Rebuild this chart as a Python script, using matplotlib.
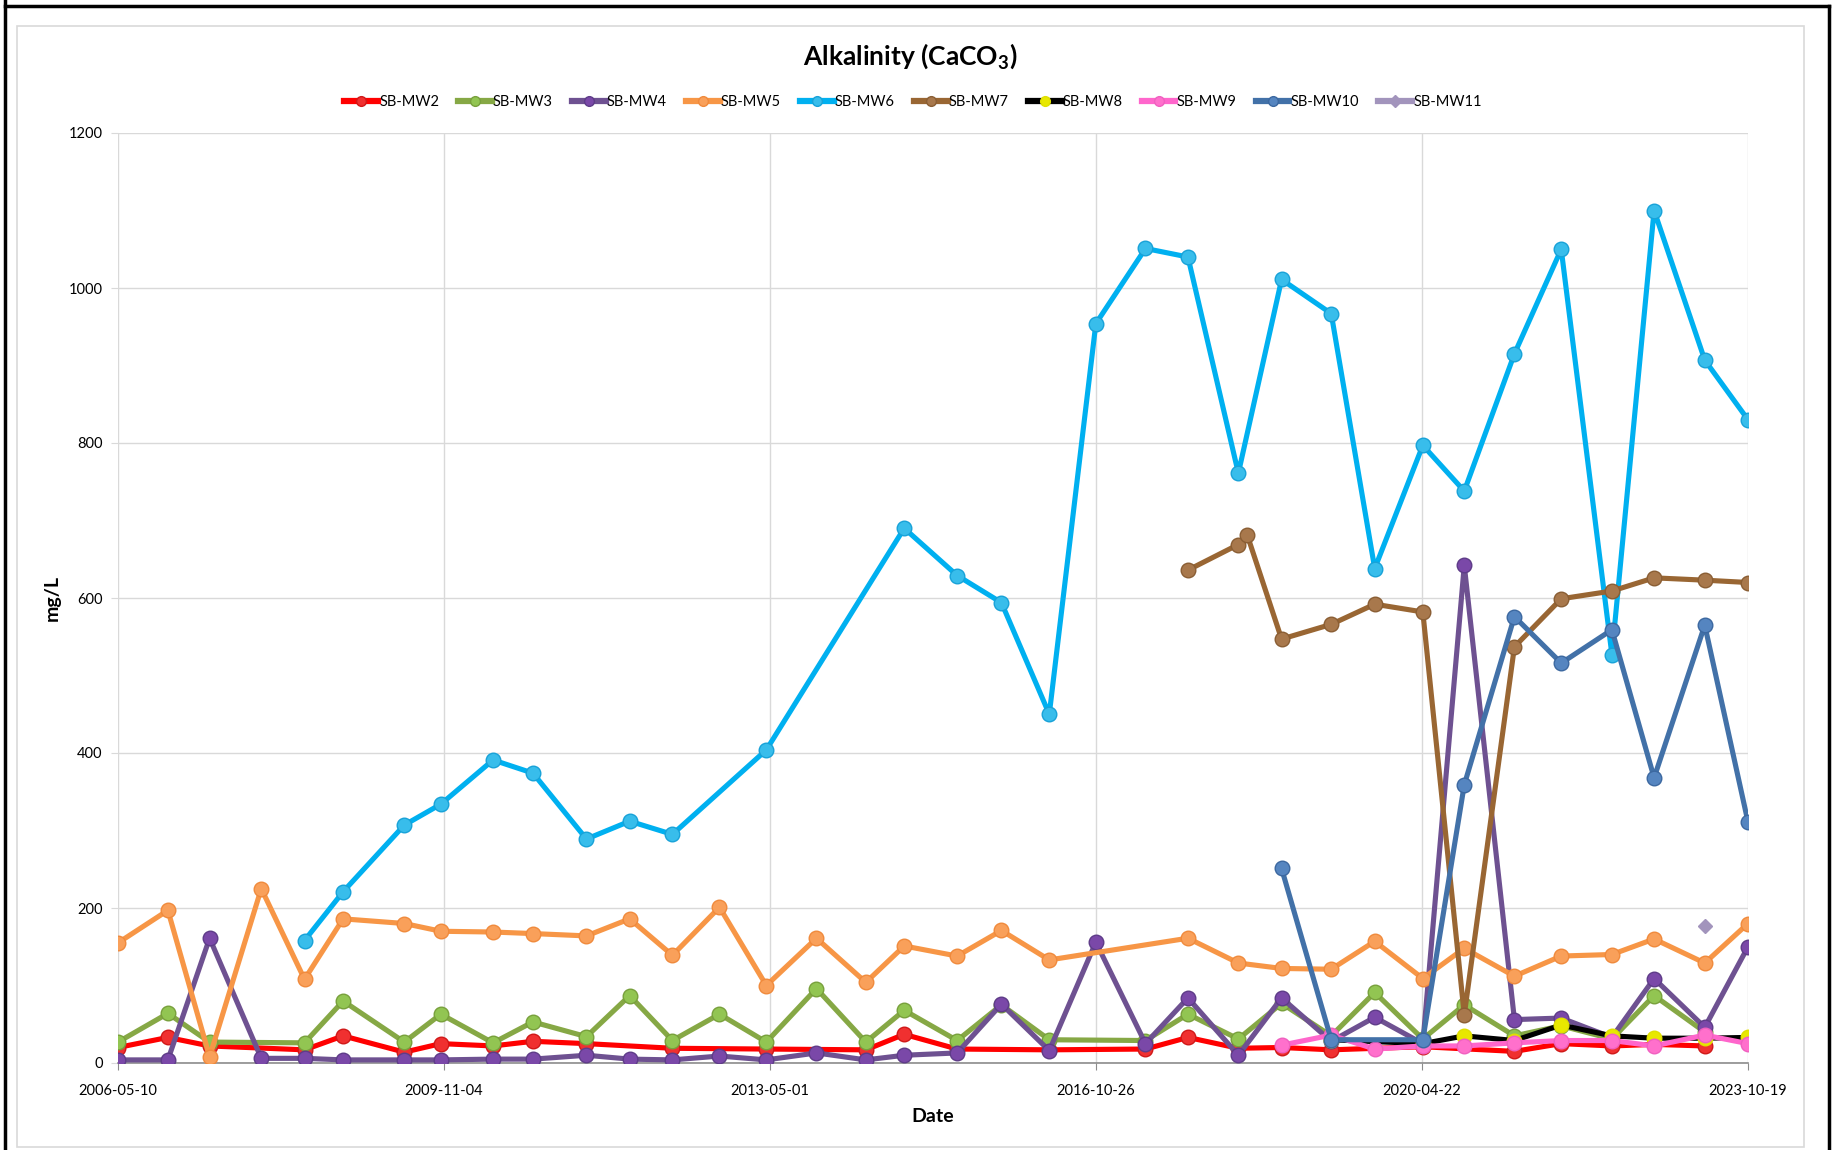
"""
Alkalinity (CaCO3) time series for the SB monitoring wells.
"""

import numpy as np
import matplotlib
matplotlib.use('Agg')
import matplotlib.pyplot as plt
import matplotlib.dates as mdates
from matplotlib.lines import Line2D
from matplotlib.patches import Rectangle

plt.rcParams['font.family'] = ['Lato', 'DejaVu Sans']

# ---- data (mg/L) ----
mw2_dates = ['2006-05-10', '2006-11-21', '2007-05-03', '2008-05-08', '2008-10-06',
             '2009-06-02', '2009-10-23', '2010-05-15', '2010-10-18', '2011-05-15',
             '2012-04-15', '2013-04-17', '2014-05-11', '2014-10-08', '2015-05-03',
             '2016-04-27', '2017-05-08', '2017-10-21', '2018-05-06', '2018-10-22',
             '2019-05-04', '2020-04-26', '2021-04-19', '2021-10-19', '2022-05-05',
             '2022-10-17', '2023-05-03']
mw2_vals = [20, 33, 22, 17, 35, 14, 25, 22, 28, 25, 19, 18, 17, 37, 18, 17, 18, 33,
            19, 20, 17, 21, 15, 25, 22, 24, 22]

mw3_dates = ['2006-05-10', '2006-11-21', '2007-05-03', '2008-05-08', '2008-10-06',
             '2009-06-02', '2009-10-23', '2010-05-15', '2010-10-18', '2011-05-15',
             '2011-10-31', '2012-04-15', '2012-10-16', '2013-04-17', '2013-10-30',
             '2014-05-11', '2014-10-08', '2015-05-03', '2015-10-23', '2016-04-27',
             '2017-05-08', '2017-10-21', '2018-05-06', '2018-10-22', '2019-05-04',
             '2019-10-21', '2020-04-26', '2020-10-05', '2021-04-19', '2021-10-19',
             '2022-05-05', '2022-10-17', '2023-05-03']
mw3_vals = [27, 64, 27, 26, 80, 27, 63, 26, 53, 34, 87, 29, 63, 27, 96, 27, 68, 29,
            75, 30, 29, 63, 31, 77, 35, 91, 31, 75, 35, 48, 31, 87, 40]

mw4_dates = ['2006-05-10', '2006-11-21', '2007-05-03', '2007-11-21', '2008-05-08',
             '2008-10-06', '2009-06-02', '2009-10-23', '2010-05-15', '2010-10-18',
             '2011-05-15', '2011-10-31', '2012-04-15', '2012-10-16', '2013-04-17',
             '2013-10-30', '2014-05-11', '2014-10-08', '2015-05-03', '2015-10-23',
             '2016-04-27', '2016-10-26', '2017-05-08', '2017-10-21', '2018-05-06',
             '2018-10-22', '2019-05-04', '2019-10-21', '2020-04-26', '2020-10-05',
             '2021-04-19', '2021-10-19', '2022-05-05', '2022-10-17', '2023-05-03',
             '2023-10-19']
mw4_vals = [4, 4, 161, 6, 6, 4, 4, 4, 5, 5, 10, 5, 4, 9, 4, 13, 4, 10, 13, 76, 16,
            156, 25, 84, 10, 84, 28, 59, 25, 642, 56, 58, 33, 109, 46, 150]

mw5_dates = ['2006-05-10', '2006-11-21', '2007-05-03', '2007-11-21', '2008-05-08',
             '2008-10-06', '2009-06-02', '2009-10-23', '2010-05-15', '2010-10-18',
             '2011-05-15', '2011-10-31', '2012-04-15', '2012-10-16', '2013-04-17',
             '2013-10-30', '2014-05-11', '2014-10-08', '2015-05-03', '2015-10-23',
             '2016-04-27', '2017-10-21', '2018-05-06', '2018-10-22', '2019-05-04',
             '2019-10-21', '2020-04-26', '2020-10-05', '2021-04-19', '2021-10-19',
             '2022-05-05', '2022-10-17', '2023-05-03', '2023-10-19']
mw5_vals = [155, 197, 8, 225, 108, 186, 180, 170, 169, 167, 164, 186, 139, 201, 100,
            161, 104, 151, 138, 171, 133, 161, 129, 122, 121, 157, 109, 148, 112,
            138, 140, 160, 129, 180]

mw6_dates = ['2008-05-08', '2008-10-06', '2009-06-02', '2009-10-23', '2010-05-15',
             '2010-10-18', '2011-05-15', '2011-10-31', '2012-04-15', '2013-04-17',
             '2014-10-08', '2015-05-03', '2015-10-23', '2016-04-27', '2016-10-26',
             '2017-05-08', '2017-10-21', '2018-05-06', '2018-10-22', '2019-05-04',
             '2019-10-21', '2020-04-26', '2020-10-05', '2021-04-19', '2021-10-19',
             '2022-05-05', '2022-10-17', '2023-05-03', '2023-10-19']
mw6_vals = [158, 221, 307, 334, 391, 374, 289, 312, 295, 404, 690, 629, 594, 450,
            954, 1051, 1040, 761, 1011, 967, 638, 797, 738, 915, 1050, 527, 1100,
            907, 830]

mw7_dates = ['2017-10-21', '2018-05-06', '2018-06-10', '2018-10-22', '2019-05-04',
             '2019-10-21', '2020-04-26', '2020-10-05', '2021-04-19', '2021-10-19',
             '2022-05-05', '2022-10-17', '2023-05-03', '2023-10-19']
mw7_vals = [636, 669, 681, 547, 566, 592, 582, 62, 537, 599, 609, 626, 623, 620]

mw8_dates = ['2019-05-04', '2020-04-26', '2020-10-05', '2021-04-19', '2021-10-19',
             '2022-05-05', '2022-10-17', '2023-05-03', '2023-10-19']
mw8_vals = [30, 25, 35, 29, 49, 35, 32, 32, 33]

mw9_dates = ['2018-10-22', '2019-05-04', '2019-10-21', '2020-04-26', '2020-10-05',
             '2021-04-19', '2021-10-19', '2022-05-05', '2022-10-17', '2023-05-03',
             '2023-10-19']
mw9_vals = [23, 36, 18, 22, 22, 26, 29, 29, 22, 36, 25]

mw10_dates = ['2018-10-22', '2019-05-04', '2020-04-26', '2020-10-05', '2021-04-19',
              '2021-10-19', '2022-05-05', '2022-10-17', '2023-05-03', '2023-10-19']
mw10_vals = [251, 30, 30, 359, 576, 516, 559, 368, 565, 311]

mw11_dates = ['2023-05-03']
mw11_vals = [177]

tick_dates = ['2006-05-10', '2009-11-04', '2013-05-01', '2016-10-26',
              '2020-04-22', '2023-10-19']

# name, dates, values, line colour, marker face, marker edge, marker
series = [
    ('SB-MW2', mw2_dates, mw2_vals, '#FF0000', '#F03030', '#D01818', 'o'),
    ('SB-MW3', mw3_dates, mw3_vals, '#86A845', '#92C552', '#78A03C', 'o'),
    ('SB-MW4', mw4_dates, mw4_vals, '#6E5191', '#7A48A8', '#5E3C88', 'o'),
    ('SB-MW5', mw5_dates, mw5_vals, '#F79646', '#F9A05A', '#F08A3C', 'o'),
    ('SB-MW6', mw6_dates, mw6_vals, '#00B0F0', '#38BDEB', '#18A2D8', 'o'),
    ('SB-MW7', mw7_dates, mw7_vals, '#996633', '#A8784C', '#8A5E34', 'o'),
    ('SB-MW8', mw8_dates, mw8_vals, '#000000', '#E8E800', '#E0E000', 'o'),
    ('SB-MW9', mw9_dates, mw9_vals, '#FF66CC', '#FF70CC', '#F060C0', 'o'),
    ('SB-MW10', mw10_dates, mw10_vals, '#4271A8', '#5585C0', '#3C68A0', 'o'),
    ('SB-MW11', mw11_dates, mw11_vals, '#A294BC', '#A294BC', '#A294BC', 'D'),
]

fig = plt.figure(figsize=(18.35, 11.5), dpi=100)
ax = fig.add_axes([118 / 1835, 1 - 1063 / 1150, 1630 / 1835, 930 / 1150])

handles = []
for name, dates, vals, lc, mfc, mec, mk in series:
    x = np.array(dates, dtype='datetime64[D]')
    if mk == 'D':
        ax.plot(x, vals, linestyle='none', marker='D', markersize=7,
                markerfacecolor=mfc, markeredgecolor=mec, zorder=3)
        h = Line2D([], [], color=lc, lw=4.5, marker='D', markersize=6,
                   markerfacecolor=mfc, markeredgecolor=mec)
    else:
        ax.plot(x, vals, color=lc, lw=3.7, marker=mk, markersize=10.5,
                markerfacecolor=mfc, markeredgecolor=mec, markeredgewidth=1.0,
                zorder=3)
        h = Line2D([], [], color=lc, lw=4.5, marker=mk, markersize=7,
                   markerfacecolor=mfc, markeredgecolor=mec)
    handles.append(h)

# axes
ax.set_ylim(0, 1200)
ax.set_yticks(np.arange(0, 1201, 200))
ticks = np.array(tick_dates, dtype='datetime64[D]')
ax.set_xlim(ticks[0], ticks[-1])
ax.set_xticks(ticks)
ax.xaxis.set_major_formatter(mdates.DateFormatter('%Y-%m-%d'))
ax.grid(True, color='#D9D9D9', lw=1.0, zorder=0)
ax.set_axisbelow(True)
for side in ['top', 'right', 'left']:
    ax.spines[side].set_visible(False)
ax.spines['bottom'].set_color('#8C8C8C')
ax.spines['bottom'].set_linewidth(1.2)
ax.tick_params(axis='y', length=5, color='#D9D9D9', labelsize=10.5, pad=6)
ax.tick_params(axis='x', length=5, color='#8C8C8C', labelsize=10.5, pad=10)

ax.set_xlabel('Date', fontsize=14, fontweight='bold', labelpad=7)
ax.set_ylabel('mg/L', fontsize=14, fontweight='bold', labelpad=6)

fig.text(0.496, 0.951, r'Alkalinity (CaCO$_\mathregular{3}$)', ha='center',
         va='center', fontsize=19, fontweight='bold')

fig.legend(handles, [s[0] for s in series], loc='center',
           bbox_to_anchor=(0.4975, 0.911), ncol=10, frameon=False,
           fontsize=10.5, handlelength=2.3, handletextpad=0.1,
           columnspacing=1.3)

# chart border and outer frame
fig.add_artist(Rectangle((17 / 1835, 1 - 1147 / 1150), 1787 / 1835, 1121 / 1150,
                         transform=fig.transFigure, fill=False,
                         edgecolor='#D9D9D9', lw=1.2))
for xs, ys in [([5, 5], [0, 1150]), ([5, 1829], [6, 6]), ([1829, 1829], [6, 1150])]:
    fig.add_artist(Line2D([x / 1835 for x in xs], [1 - y / 1150 for y in ys],
                          transform=fig.transFigure, color='black', lw=2.5))

fig.savefig('out.png', dpi=100)
plt.close(fig)
